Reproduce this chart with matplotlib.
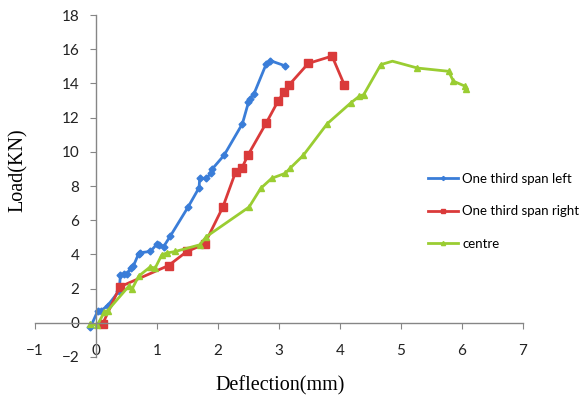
import matplotlib
matplotlib.use("Agg")
import matplotlib.pyplot as plt

# deflection (mm) / load (KN)
left_x = [-0.09, 0.03, 0.08, 0.19, 0.38, 0.40, 0.46, 0.51, 0.57, 0.61, 0.70, 0.72,
          0.89, 1.00, 1.04, 1.11, 1.22, 1.51, 1.69, 1.70, 1.80, 1.89, 1.90, 2.10,
          2.40, 2.50, 2.52, 2.59, 2.79, 2.86, 3.10]
left_y = [-0.25, 0.70, 0.70, 1.00, 1.87, 2.77, 2.87, 2.87, 3.20, 3.30, 4.04, 4.10,
          4.17, 4.60, 4.56, 4.46, 5.08, 6.77, 7.90, 8.45, 8.45, 8.74, 8.97, 9.80,
          11.64, 12.90, 13.10, 13.39, 15.13, 15.33, 15.03]

right_x = [0.11, 0.39, 1.19, 1.49, 1.78, 2.08, 2.29, 2.39, 2.49, 2.79, 2.99, 3.09,
           3.17, 3.48, 3.87, 4.07]
right_y = [-0.06, 2.10, 3.35, 4.17, 4.60, 6.77, 8.83, 9.03, 9.80, 11.68, 13.00, 13.52,
           13.93, 15.17, 15.60, 13.93]

centre_x = [-0.09, 0.02, 0.135, 0.19, 0.54, 0.59, 0.70, 0.89, 0.97, 1.08, 1.16, 1.30,
            1.70, 1.81, 2.51, 2.70, 2.88, 3.10, 3.18, 3.40, 3.79, 4.18, 4.32, 4.39,
            4.67, 4.86, 5.27, 5.78, 5.86, 6.05, 6.07]
centre_y = [-0.06, -0.15, 0.62, 0.71, 2.15, 1.96, 2.73, 3.27, 3.20, 3.98, 4.08, 4.17,
            4.56, 5.04, 6.77, 7.86, 8.45, 8.74, 9.03, 9.80, 11.64, 12.87, 13.26, 13.35,
            15.10, 15.30, 14.90, 14.71, 14.13, 13.84, 13.65]

x_ticks = list(range(-1, 8))
y_ticks = list(range(-2, 19, 2))

plt.rcParams['font.family'] = ['Lato', 'DejaVu Sans']

fig = plt.figure(figsize=(5.84, 3.99), dpi=100)
ax = fig.add_axes([0.0599, 0.1053, 0.8356, 0.857])

ax.plot(left_x, left_y, color='#3A7DD8', lw=2, marker='D', ms=3.5,
        label='One third span left')
ax.plot(right_x, right_y, color='#DA3A3A', lw=2, marker='s', ms=5.5,
        label='One third span right')
ax.plot(centre_x, centre_y, color='#9ACD32', lw=2, marker='^', ms=5,
        markevery=[i for i in range(len(centre_x)) if i != 25],
        label='centre')

ax.set_xlim(-1, 7)
ax.set_ylim(-2, 18)
ax.set_xticks(x_ticks)
ax.set_yticks(y_ticks)

for s in ['top', 'right']:
    ax.spines[s].set_visible(False)
ax.spines['left'].set_position(('data', 0))
ax.spines['bottom'].set_position(('data', 0))
for s in ['left', 'bottom']:
    ax.spines[s].set_color('#868686')
    ax.spines[s].set_linewidth(1)

ax.tick_params(axis='x', direction='out', length=4, color='#868686',
               labelsize=11, pad=11, labelcolor='#222222')
ax.tick_params(axis='y', direction='out', length=4, color='#868686',
               labelsize=11, pad=8, labelcolor='#222222')

fig.text(0.479, 0.033, 'Deflection(mm)', family='Liberation Serif',
         fontsize=14.5, ha='center', va='center')
fig.text(0.031, 0.574, 'Load(KN)', family='Liberation Serif',
         fontsize=14.5, ha='center', va='center', rotation=90)

ax.legend(loc='upper left', bbox_to_anchor=(0.724, 0.58),
          bbox_transform=fig.transFigure, frameon=False, fontsize=9.5,
          handlelength=2.3, handletextpad=0.3, labelspacing=1.55,
          markerscale=0.6, borderaxespad=0)

fig.savefig('out.png', dpi=100)
